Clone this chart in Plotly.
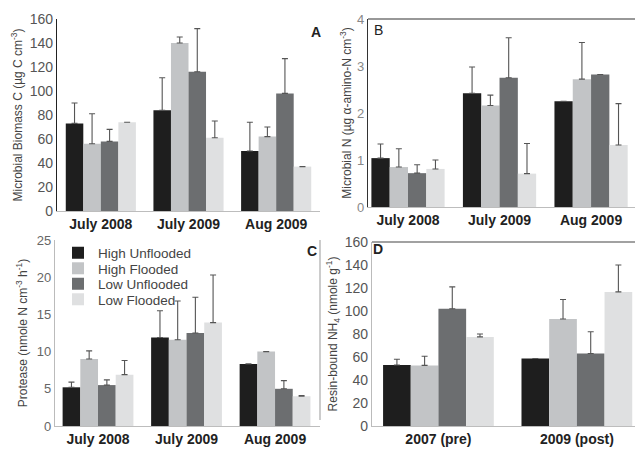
import plotly.graph_objects as go

series = ["High Unflooded", "High Flooded", "Low Unflooded", "Low Flooded"]
colors = ["#1e1e1e", "#c2c4c6", "#6c6e70", "#dfe0e1"]

months = ["July 2008", "July 2009", "Aug 2009"]
years = ["2007 (pre)", "2009 (post)"]

# Panel A: Microbial biomass C
a_vals = [[73, 84, 50], [56, 140, 62], [58, 116, 98], [74, 61, 37]]
a_errs = [[17, 27, 24], [25, 5, 8], [10, 36, 29], [0, 14, 0]]
# Panel B: Microbial N
b_vals = [[1.04, 2.42, 2.25], [0.85, 2.16, 2.72], [0.72, 2.75, 2.82], [0.81, 0.71, 1.32]]
b_errs = [[0.30, 0.56, 0.0], [0.39, 0.22, 0.78], [0.18, 0.85, 0.0], [0.19, 0.64, 0.88]]
# Panel C: Protease
c_vals = [[5.2, 11.9, 8.35], [9.0, 11.6, 10.0], [5.5, 12.5, 5.0], [6.9, 13.9, 4.0]]
c_errs = [[0.7, 3.6, 0.0], [1.1, 5.2, 0.0], [0.7, 4.8, 1.1], [1.9, 6.4, 0.1]]
# Panel D: Resin-bound NH4
d_vals = [[53, 58.7], [52.7, 93], [102, 63], [77.5, 116.6]]
d_errs = [[5, 0], [8, 17], [19, 19], [2.5, 23.4]]

W, H = 635, 452


def dom_x(x0, x1):
    return [x0 / W, x1 / W]


def dom_y(top, bottom):
    return [1 - bottom / H, 1 - top / H]


fig = go.Figure()

panels = [
    ("x", "y", months, a_vals, a_errs, False),
    ("x2", "y2", months, b_vals, b_errs, False),
    ("x3", "y3", months, c_vals, c_errs, True),
    ("x4", "y4", years, d_vals, d_errs, False),
]

legend_ids = ["legend", "legend2", "legend3", "legend4"]

for xa, ya, cats, vals, errs, show in panels:
    for i, name in enumerate(series):
        fig.add_trace(go.Bar(
            x=cats, y=vals[i], name=name, xaxis=xa, yaxis=ya,
            marker=dict(color=colors[i], line=dict(width=0)),
            error_y=dict(type="data", array=errs[i], arrayminus=[0] * len(cats),
                         symmetric=False, color="#555555", thickness=1.1, width=3),
            showlegend=show, legend=legend_ids[i],
        ))

fam = "Liberation Sans, Arial"
tickfont_big = dict(family=fam, size=14, color="#555")
tickfont_small = dict(family=fam, size=13, color="#666")
catfont = dict(family=fam, size=14, color="#222", weight="bold")
titlefont = dict(family=fam, size=12, color="#444")

common_x = dict(type="category", showline=True, linecolor="#bdbdbd", linewidth=1,
                ticks="", tickfont=catfont, showgrid=False, zeroline=False, automargin=False)
common_y = dict(showline=True, linewidth=1.2, ticks="", showgrid=False, zeroline=False,
                automargin=False)

fig.update_layout(
    width=W, height=H, margin=dict(l=0, r=0, t=0, b=0, autoexpand=False),
    paper_bgcolor="white", plot_bgcolor="white",
    barmode="group",
    font=dict(family=fam, color="#333"),
    xaxis=dict(common_x, domain=dom_x(57, 320), anchor="y", range=[-0.5, 2.5]),
    yaxis=dict(common_y, domain=dom_y(19, 211), anchor="x", range=[0, 160], dtick=20,
               linecolor="#222", tickfont=tickfont_big,
               title=dict(text="Microbial Biomass C (µg C cm<sup>-3</sup>)", font=titlefont, standoff=4)),
    xaxis2=dict(common_x, domain=dom_x(368, 635), anchor="y2", range=[-0.437, 2.48]),
    yaxis2=dict(common_y, domain=dom_y(19, 207), anchor="x2", range=[0, 4], dtick=1,
                linecolor="#333", tickfont=dict(tickfont_small, color="#888"),
                title=dict(text="Microbial N (µg α-amino-N cm<sup>-3</sup>)", font=titlefont, standoff=2)),
    xaxis3=dict(common_x, domain=dom_x(55, 320), anchor="y3", range=[-0.486, 2.508]),
    yaxis3=dict(common_y, domain=dom_y(240, 426), anchor="x3", range=[0, 25], dtick=5,
                linecolor="#bbb", tickfont=tickfont_small,
                title=dict(text="Protease (nmole N cm<sup>-3</sup> h<sup>-1</sup>)", font=titlefont, standoff=6)),
    xaxis4=dict(common_x, domain=dom_x(372, 635), anchor="y4", range=[-0.48, 1.42]),
    yaxis4=dict(common_y, domain=dom_y(242, 426), anchor="x4", range=[0, 160], dtick=20,
                linecolor="#bbb", tickfont=tickfont_big,
                title=dict(text="Resin-bound NH<sub>4</sub> (nmole g<sup>-1</sup>)", font=titlefont, standoff=4)),
    bargap=0.2,
)

legend_y = [253, 268.5, 284, 299.5]
for lid, py in zip(legend_ids, legend_y):
    fig.update_layout({lid: dict(x=58 / W, y=1 - py / H, xanchor="left", yanchor="middle",
                                 bgcolor="rgba(255,255,255,0)", font=dict(size=13.5, color="#444"),
                                 itemwidth=30)})

# panel borders (top lines of B and D, right line of C)
shapes = [
    dict(type="line", xref="paper", yref="paper", x0=368 / W, x1=1, y0=1 - 19 / H, y1=1 - 19 / H,
         line=dict(color="#333", width=1.2)),
    dict(type="line", xref="paper", yref="paper", x0=372 / W, x1=1, y0=1 - 242 / H, y1=1 - 242 / H,
         line=dict(color="#444", width=1.2)),
    dict(type="line", xref="paper", yref="paper", x0=320 / W, x1=320 / W, y0=1 - 420 / H, y1=1 - 240 / H,
         line=dict(color="#999", width=1)),
]
fig.update_layout(shapes=shapes)

labels = [("A", 316, 32, True), ("B", 378, 30, False), ("C", 312, 251, True), ("D", 378, 249, True)]
for t, px, py, bold in labels:
    fig.add_annotation(text=f"<b>{t}</b>" if bold else t, x=px / W, y=1 - py / H, xref="paper", yref="paper",
                       showarrow=False, font=dict(size=14, color="#222"), xanchor="center", yanchor="middle")

fig.write_html("out.html", config={"displayModeBar": False},
               post_script="document.body.style.margin='0px';document.body.style.overflow='hidden';")
